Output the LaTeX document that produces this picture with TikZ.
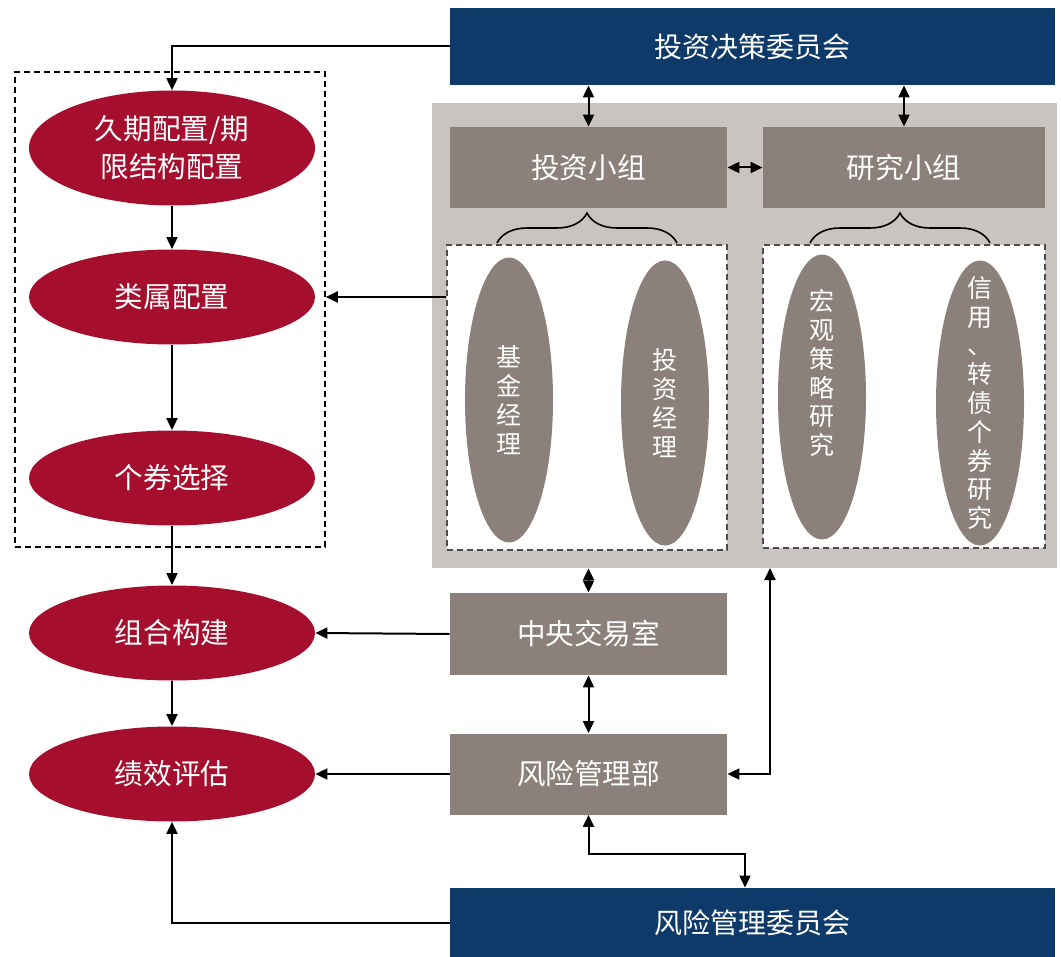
\documentclass[tikz,border=0pt]{standalone}
\usepackage{fontspec}
\setmainfont{Noto Sans CJK SC}
\usetikzlibrary{arrows.meta,decorations.pathreplacing,shapes.geometric}
\definecolor{navy}{RGB}{14,58,106}
\definecolor{crimson}{RGB}{165,14,45}
\definecolor{taupe}{RGB}{140,129,122}
\definecolor{panelgray}{RGB}{201,196,191}
\tikzset{>={Triangle[length=6pt,width=5.5pt]}}
\tikzset{%
    board/.style={fill=navy, text=white, inner sep=0pt,
        minimum width=302.5pt, font=\fontsize{14}{16}\selectfont},
    team/.style={fill=taupe, text=white, inner sep=0pt,
        minimum height=40.5pt, font=\fontsize{14.3}{16}\selectfont},
    stage/.style={ellipse, fill=crimson, text=white, inner sep=0pt,
        minimum width=143pt, minimum height=47.5pt, align=center,
        font=\fontsize{14.3}{19}\selectfont},
    staff/.style={ellipse, fill=taupe, inner sep=0pt,
        minimum width=44pt, minimum height=142.5pt},
    vtext/.style={text=white, inner sep=0pt, align=center,
        font=\fontsize{12.5}{14.4}\selectfont},
    group/.style={draw=black!70, line width=0.75pt, dash pattern=on 3pt off 2pt, fill=white},
    link/.style={line width=1pt, ->}
}

\begin{document}
\begin{tikzpicture}[x=0.5pt,y=-0.5pt]
\useasboundingbox (0,0) rectangle (1061,957);

% committees
\node[board, minimum height=38.5pt] (ic) at (752.5,46.5) {投资决策委员会};
\node[board, minimum height=34.5pt] (rc) at (752.5,922.5) {风险管理委员会};

% investment and research panel
\node[fill=panelgray, inner sep=0pt, minimum width=312.5pt, minimum height=232.5pt] (panel) at (744.5,335.5) {};
\node[team, minimum width=138.5pt] (it) at (588.5,167.5) {投资小组};
\node[team, minimum width=141pt] (rt) at (904,167.5) {研究小组};
\node[group, minimum width=140pt, minimum height=152.5pt] (invbox) at (587,397.5) {};
\node[group, minimum width=141pt, minimum height=151.5pt] (resbox) at (904,396.5) {};

\node[staff, label={[vtext]center:基\\金\\经\\理}] (fm) at (509,400) {};
\node[staff, label={[vtext]center:投\\资\\经\\理}] (im) at (665,403) {};
\node[staff, label={[vtext, yshift=12pt]center:宏\\观\\策\\略\\研\\究}] (macro) at (822,397) {};
\node[staff, label={[vtext]center:信\\用\\、\\转\\债\\个\\券\\研\\究}] (credit) at (980,403) {};

\draw[thick, decorate, decoration={brace, amplitude=15pt}] (497,243) -- (677,243);
\draw[thick, decorate, decoration={brace, amplitude=15pt}] (810,243) -- (990,243);

% trading and risk
\node[team, minimum width=138.5pt, minimum height=41pt] (trade) at (588.5,634) {中央交易室};
\node[team, minimum width=138.5pt] (risk) at (588.5,774) {风险管理部};

% process chain
\node[draw, line width=0.75pt, dash pattern=on 3pt off 2pt, inner sep=0pt,
    minimum width=155pt, minimum height=237.5pt] (frame) at (170,309.5) {};
\node[stage, minimum height=57.5pt] (dur) at (172,148) {久期配置/期\\限结构配置};
\node[stage] (cat) at (172,297) {类属配置};
\node[stage] (sel) at (172,478) {个券选择};
\node[stage] (build) at (172,633) {组合构建};
\node[stage] (eval) at (172,774) {绩效评估};

\draw[link] (dur) -- (cat);
\draw[link] (cat) -- (sel);
\draw[link] (sel) -- (build);
\draw[link] (build) -- (eval);

% connectors
\draw[link] (ic.west) -| (dur.north);
\draw[link, <->] (it.north |- ic.south) -- (it.north);
\draw[link, <->] (rt.north |- ic.south) -- (rt.north);
\draw[link, <->] (it.east) -- (rt.west);
\draw[link] (invbox.west |- cat.east) -- (frame.east |- cat.east);
\draw[link, <->] (trade.north |- panel.south) -- (trade.north);
\draw[link, <->] (trade.south) -- (risk.north);
\draw[link] (trade.west) -- (build.east);
\draw[link] (risk.west) -- (eval.east);
\coordinate (tap) at (770,568);
\draw[link, <->] (tap) |- (risk.east);
\draw[link, <->] (risk.south) -- ++(0,39) -| ([xshift=-3.75pt]rc.north);
\draw[link] (rc.west) -| (eval.south);
\end{tikzpicture}
\end{document}
